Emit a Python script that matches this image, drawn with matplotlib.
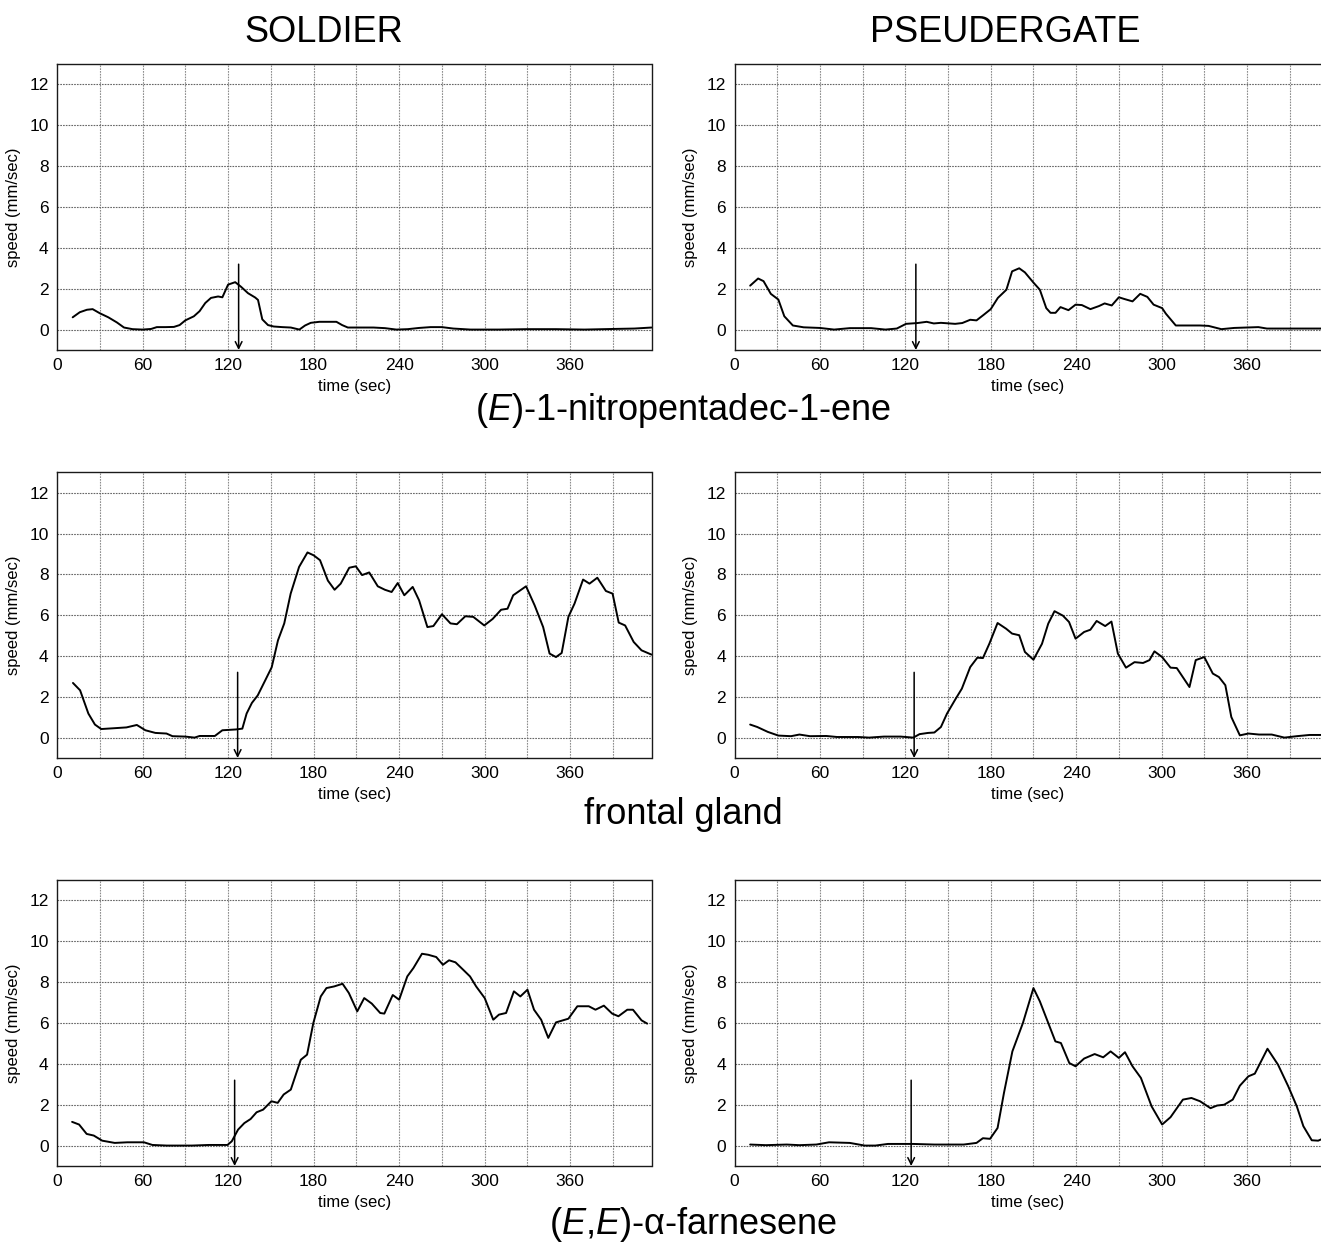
import matplotlib
matplotlib.use("Agg")
import matplotlib.pyplot as plt

plt.rcParams['font.family'] = ['Liberation Sans', 'DejaVu Sans']
plt.rcParams['mathtext.fontset'] = 'custom'
plt.rcParams['mathtext.rm'] = 'Liberation Sans'
plt.rcParams['mathtext.it'] = 'Liberation Sans:italic'

# ---- data: (E)-1-nitropentadec-1-ene ----
t_nitro_sold = [11, 16, 21, 25, 30, 36, 42, 47, 53, 60, 66, 70, 76, 82, 86, 90, 96, 100, 104, 108,
                113, 116, 120, 125, 129, 134, 139, 141, 144, 148, 152, 158, 164, 170, 174, 178, 184, 190,
                196, 200, 204, 212, 222, 230, 238, 246, 254, 262, 270, 278, 290, 310, 330, 350, 370, 390, 405, 417]
v_nitro_sold = [0.6, 0.85, 0.97, 1.0, 0.8, 0.6, 0.35, 0.1, 0.02, 0.0, 0.03, 0.12, 0.12, 0.13, 0.22, 0.45, 0.65, 0.9, 1.3, 1.55,
                1.62, 1.58, 2.2, 2.32, 2.1, 1.78, 1.57, 1.45, 0.5, 0.22, 0.15, 0.12, 0.1, 0.0, 0.2, 0.33, 0.38, 0.38,
                0.38, 0.22, 0.1, 0.1, 0.1, 0.07, 0.0, 0.02, 0.08, 0.12, 0.12, 0.05, 0.0, 0.0, 0.02, 0.02, 0.0, 0.03, 0.05, 0.1]

t_nitro_pseu = [11, 16.6, 20.4, 25.5, 30.8, 35, 41, 48.6, 60, 70, 81, 96, 106, 114, 120.5, 128.6, 135, 140, 145, 155,
                160, 165.6, 170, 175, 180, 185, 191, 195, 200, 204, 210, 214.5, 219, 222, 225.5, 229, 234.6, 239.6,
                244, 250, 256, 260, 265, 270, 273.7, 279.6, 285, 290, 294.4, 300.4, 303, 310, 321, 327, 333, 342,
                351, 368, 374, 392, 412]
v_nitro_pseu = [2.15, 2.5, 2.37, 1.75, 1.47, 0.65, 0.2, 0.11, 0.08, 0.0, 0.07, 0.07, 0.0, 0.05, 0.28, 0.32, 0.38, 0.3, 0.33, 0.28,
                0.32, 0.48, 0.45, 0.72, 1.0, 1.55, 1.95, 2.85, 3.0, 2.8, 2.3, 1.95, 1.05, 0.82, 0.82, 1.1, 0.95, 1.22,
                1.2, 1.0, 1.15, 1.28, 1.18, 1.58, 1.5, 1.38, 1.75, 1.6, 1.22, 1.05, 0.78, 0.2, 0.2, 0.2, 0.18, 0.02,
                0.08, 0.12, 0.05, 0.05, 0.05]

# ---- data: frontal gland ----
t_front_sold = [11.2, 16.2, 22, 26.6, 31, 40, 48.7, 56, 62, 69, 76.8, 81, 90, 96.5, 100, 110.7, 116, 125.5, 130, 133,
                136.7, 140.8, 146, 150.6, 155, 159.4, 163.9, 169.8, 175.7, 180, 184.5, 190, 194.7, 199, 205, 209.6,
                214, 219, 225, 230, 234.7, 239, 243.6, 249.5, 254, 259.8, 264, 270, 276, 280.5, 286.4, 292, 299.7,
                305.6, 311.5, 316, 320, 329, 335, 341, 345.5, 350, 354, 358.7, 363, 369, 373.5, 379, 385, 389.7,
                394, 398.5, 404.5, 410, 417]
v_front_sold = [2.68, 2.32, 1.18, 0.64, 0.42, 0.46, 0.5, 0.62, 0.36, 0.23, 0.2, 0.07, 0.05, 0.0, 0.08, 0.08, 0.36, 0.4, 0.44, 1.18,
                1.7, 2.07, 2.8, 3.45, 4.77, 5.6, 7.06, 8.37, 9.08, 8.94, 8.7, 7.7, 7.25, 7.55, 8.33, 8.4,
                7.97, 8.1, 7.42, 7.25, 7.14, 7.58, 6.98, 7.39, 6.73, 5.42, 5.47, 6.05, 5.6, 5.56, 5.95, 5.92, 5.5,
                5.82, 6.27, 6.32, 6.98, 7.42, 6.49, 5.42, 4.12, 3.95, 4.15, 5.92, 6.57, 7.75, 7.55, 7.84, 7.19, 7.06,
                5.64, 5.5, 4.69, 4.28, 4.07]

t_front_pseu = [11, 16, 23.4, 30.8, 39.7, 45.6, 53, 64.5, 72, 87, 94.5, 105, 116.7, 125.6, 130, 136, 140.4, 145, 149.3, 155,
                159.7, 165.6, 170.6, 174.5, 179, 184.8, 190.8, 195, 200, 204, 210, 216, 220.4, 224.8, 230.7, 235,
                239.6, 245.6, 250, 254.4, 260.4, 264.8, 269.3, 275, 281, 287, 291.5, 295, 300.4, 306.3, 310.7,
                319.6, 324, 330, 336, 340.3, 344.8, 349, 355, 361, 368.5, 377.4, 386.3, 395, 404, 412]
v_front_pseu = [0.64, 0.52, 0.28, 0.1, 0.07, 0.15, 0.07, 0.08, 0.03, 0.03, 0.0, 0.05, 0.05, 0.0, 0.17, 0.23, 0.25, 0.52, 1.18, 1.86,
                2.4, 3.46, 3.92, 3.9, 4.6, 5.62, 5.34, 5.1, 5.02, 4.2, 3.82, 4.6, 5.59, 6.2, 5.98, 5.67,
                4.85, 5.18, 5.29, 5.72, 5.47, 5.69, 4.12, 3.43, 3.7, 3.66, 3.8, 4.23, 3.95, 3.43, 3.41,
                2.48, 3.8, 3.95, 3.14, 2.97, 2.57, 1.01, 0.11, 0.2, 0.15, 0.15, 0.0, 0.07, 0.13, 0.13]

# ---- data: (E,E)-alpha-farnesene ----
t_farn_sold = [10.6, 15.5, 20.8, 25.8, 31.7, 40.5, 49.3, 61, 66.9, 77, 94.7, 106.5, 119.6, 122.6, 127, 131.4, 135.8, 140,
               144.6, 150.4, 154.8, 159, 164, 171, 175.4, 179.8, 185, 189, 194.4, 200.3, 204.7, 210.6, 215.5, 220.8,
               226.7, 229.6, 235.5, 240, 245.7, 250, 256, 260.4, 266, 270.7, 275, 279.5, 285, 289.7, 294, 300, 306,
               310, 315, 320.5, 325, 330, 334.6, 339.6, 344.6, 350, 358.7, 365, 373, 377.7, 383.6, 389.4, 393.8,
               400, 404, 410, 414]
v_farn_sold = [1.16, 1.03, 0.57, 0.49, 0.24, 0.13, 0.16, 0.16, 0.03, 0.0, 0.0, 0.03, 0.03, 0.21, 0.78, 1.1, 1.3, 1.63,
               1.76, 2.17, 2.09, 2.5, 2.74, 4.2, 4.45, 6.0, 7.3, 7.71, 7.79, 7.92, 7.47, 6.57, 7.22, 6.95,
               6.49, 6.46, 7.37, 7.14, 8.28, 8.69, 9.39, 9.34, 9.23, 8.85, 9.07, 8.97, 8.6, 8.28, 7.79, 7.22, 6.16,
               6.41, 6.49, 7.55, 7.3, 7.63, 6.65, 6.16, 5.27, 6.03, 6.21, 6.82, 6.82, 6.65, 6.85, 6.46, 6.33,
               6.65, 6.65, 6.13, 5.97]

t_farn_pseu = [11, 22, 36.7, 45.6, 57.5, 66.4, 81, 91.5, 99, 107.8, 125.6, 140.4, 161, 170, 174.5, 179.5, 184.8, 189.3,
               195.2, 202.6, 210, 214.5, 220.4, 225.4, 229.3, 235.2, 239.6, 245.6, 253, 259, 264.2, 270, 274.3,
               279.6, 285.5, 293, 300.4, 306.3, 315, 321, 327, 334.4, 339, 344, 350, 355, 361, 365.5, 374.4, 381.8,
               389, 395, 399.6, 405.5, 410, 412]
v_farn_pseu = [0.05, 0.02, 0.05, 0.02, 0.05, 0.16, 0.13, 0.0, 0.0, 0.08, 0.08, 0.05, 0.05, 0.13, 0.36, 0.33, 0.86, 2.58,
               4.61, 6.0, 7.71, 7.06, 6.0, 5.1, 5.02, 4.04, 3.88, 4.26, 4.48, 4.32, 4.61, 4.29, 4.57,
               3.88, 3.31, 1.92, 1.03, 1.39, 2.25, 2.33, 2.17, 1.83, 1.96, 2.0, 2.25, 2.93, 3.39, 3.52, 4.74, 3.96,
               2.9, 1.92, 0.95, 0.26, 0.24, 0.3]

arrow_x = [[127.4, 127.4], [126.7, 126.2], [124.6, 124.1]]
col_titles = ['SOLDIER', 'PSEUDERGATE']
row_titles = ['($\\mathit{E}$)-1-nitropentadec-1-ene', 'frontal gland', '($\\mathit{E}$,$\\mathit{E}$)-\u03b1-farnesene']
x_ticks = [0, 60, 120, 180, 240, 300, 360]
y_ticks = [0, 2, 4, 6, 8, 10, 12]
grid_x = [30, 60, 90, 120, 150, 180, 210, 240, 270, 300, 330, 360, 390]

series = [[(t_nitro_sold, v_nitro_sold), (t_nitro_pseu, v_nitro_pseu)],
          [(t_front_sold, v_front_sold), (t_front_pseu, v_front_pseu)],
          [(t_farn_sold, v_farn_sold), (t_farn_pseu, v_farn_pseu)]]

W, H = 1321, 1243
fig = plt.figure(figsize=(W / 100, H / 100), dpi=100)

rows_px = [(64, 350), (472.5, 758), (880, 1166)]
cols_px = [(57, 651.5), (734.5, 1321)]
xmax = [417, 412]

for r in range(3):
    for c in range(2):
        top, bot = rows_px[r]
        left, right = cols_px[c]
        ax = fig.add_axes([left / W, 1 - bot / H, (right - left) / W, (bot - top) / H])
        t, v = series[r][c]
        ax.set_xlim(0, xmax[c])
        ax.set_ylim(-1, 13)
        for gx in grid_x:
            ax.axvline(gx, color='0.55', lw=0.8, ls=(0, (1.5, 1)), zorder=1)
        for gy in y_ticks:
            ax.axhline(gy, color='0.4', lw=0.8, ls=(0, (1.5, 1)), zorder=1)
        ax.plot(t, v, color='black', lw=1.4, zorder=3,
                solid_joinstyle='round', solid_capstyle='round')
        ax.annotate('', xy=(arrow_x[r][c], -1), xytext=(arrow_x[r][c], 3.2),
                    arrowprops=dict(arrowstyle='->', color='black', lw=1.1,
                                    mutation_scale=12, shrinkA=0, shrinkB=0), zorder=4)
        ax.set_xticks(x_ticks)
        ax.set_yticks(y_ticks)
        ax.tick_params(length=0, labelsize=12.5, pad=6)
        ax.set_xlabel('time (sec)', fontsize=12, labelpad=4)
        ax.set_ylabel('speed (mm/sec)', fontsize=12, labelpad=6)
        for s in ax.spines.values():
            s.set_linewidth(1.0)
            s.set_color('0.1')
        if c == 1:
            ax.spines['right'].set_visible(False)

fig.text(324 / W, 1 - 32 / H, col_titles[0], ha='center', va='center', fontsize=26)
fig.text(1005 / W, 1 - 32 / H, col_titles[1], ha='center', va='center', fontsize=26)
fig.text(683 / W, 1 - 410 / H, row_titles[0], ha='center', va='center', fontsize=26)
fig.text(683 / W, 1 - 815 / H, row_titles[1], ha='center', va='center', fontsize=26)
fig.text(693 / W, 1 - 1225 / H, row_titles[2], ha='center', va='center', fontsize=26)

fig.savefig('out.png', dpi=100, facecolor='white')
